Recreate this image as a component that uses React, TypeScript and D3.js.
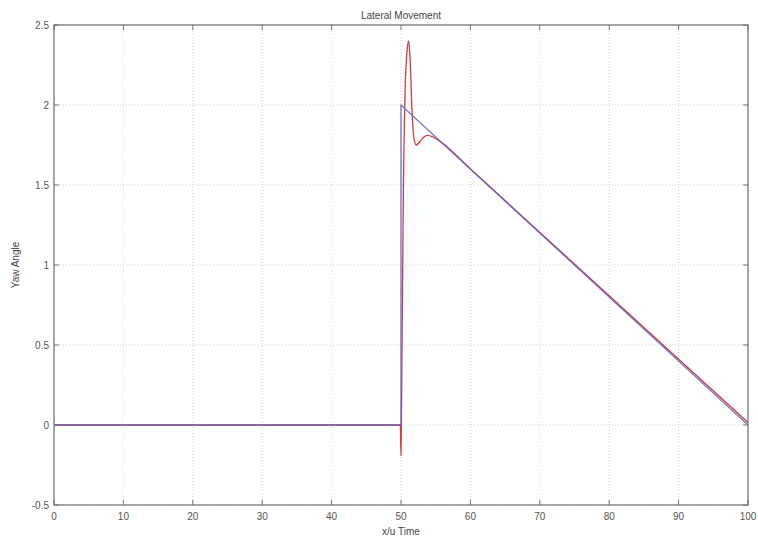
import React from "react";
import * as d3 from "d3";

const xTicks = [0, 10, 20, 30, 40, 50, 60, 70, 80, 90, 100];
const yTicks = [-0.5, 0, 0.5, 1, 1.5, 2, 2.5];
const yTickLabels = ["-0.5", "0", "0.5", "1", "1.5", "2", "2.5"];

const redT = [0, 49.9, 50.0, 50.15, 50.35, 50.6, 50.9, 51.1, 51.3, 51.6, 51.9, 52.2, 52.7, 53.3, 53.8, 54.6, 56, 60, 100];
const redY = [0, 0, -0.19, 0.5, 1.5, 2.1, 2.35, 2.4, 2.3, 1.95, 1.78, 1.75, 1.77, 1.8, 1.81, 1.8, 1.76, 1.6, 0.015];

const blueT = [0, 50, 50, 100];
const blueY = [0, 0, 2, 0];

const title = "Lateral Movement";
const xLabel = "x/u Time";
const yLabel = "Yaw Angle";

export default function App() {
  const W = 758, H = 540;
  const x = d3.scaleLinear().domain([0, 100]).range([54, 748]);
  const y = d3.scaleLinear().domain([-0.5, 2.5]).range([505, 25]);
  const line = d3.line<[number, number]>().x(d => x(d[0])).y(d => y(d[1]));
  const redLine = d3.line<[number, number]>().x(d => x(d[0])).y(d => y(d[1])).curve(d3.curveMonotoneX);
  const red = redLine(redT.map((t, i) => [t, redY[i]] as [number, number]))!;
  const blue = line(blueT.map((t, i) => [t, blueY[i]] as [number, number]))!;
  const font = "'Liberation Sans', Arial, sans-serif";
  const [x0, x1] = x.range();
  const [y0, y1] = y.range();
  return (
    <svg width={W} height={H} style={{ position: "absolute", left: 0, top: 0, background: "#fff" }} fontFamily={font}>
      <rect x={0} y={0} width={W} height={H} fill="#fff" />
      {xTicks.map(t => (
        <line key={"gx" + t} x1={x(t)} x2={x(t)} y1={y1} y2={y0} stroke="#cfcfcf" strokeWidth={1} strokeDasharray="1,2" />
      ))}
      {yTicks.map(t => (
        <line key={"gy" + t} x1={x0} x2={x1} y1={y(t)} y2={y(t)} stroke="#cfcfcf" strokeWidth={1} strokeDasharray="1,2" />
      ))}
      <path d={red} fill="none" stroke="#d83838" strokeWidth={1.3} />
      <path d={blue} fill="none" stroke="#5a66c8" strokeWidth={1.4} strokeOpacity={0.85} />
      <rect x={x0} y={y1} width={x1 - x0} height={y0 - y1} fill="none" stroke="#707070" strokeWidth={1.2} />
      {xTicks.map(t => (
        <g key={"tx" + t}>
          <line x1={x(t)} x2={x(t)} y1={y0} y2={y0 - 5} stroke="#707070" />
          <line x1={x(t)} x2={x(t)} y1={y1} y2={y1 + 5} stroke="#707070" />
          <text x={x(t)} y={y0 + 15} fontSize={10} fill="#555" textAnchor="middle">{t}</text>
        </g>
      ))}
      {yTicks.map((t, i) => (
        <g key={"ty" + t}>
          <line x1={x0} x2={x0 + 5} y1={y(t)} y2={y(t)} stroke="#707070" />
          <line x1={x1} x2={x1 - 5} y1={y(t)} y2={y(t)} stroke="#707070" />
          <text x={x0 - 5} y={y(t) + 3.5} fontSize={10} fill="#555" textAnchor="end">{yTickLabels[i]}</text>
        </g>
      ))}
      <text x={(x0 + x1) / 2} y={19} fontSize={10} fill="#444" textAnchor="middle">{title}</text>
      <text x={(x0 + x1) / 2} y={535} fontSize={10} fill="#444" textAnchor="middle">{xLabel}</text>
      <text transform={`translate(19,${(y0 + y1) / 2}) rotate(-90)`} fontSize={10} fill="#444" textAnchor="middle">{yLabel}</text>
    </svg>
  );
}
